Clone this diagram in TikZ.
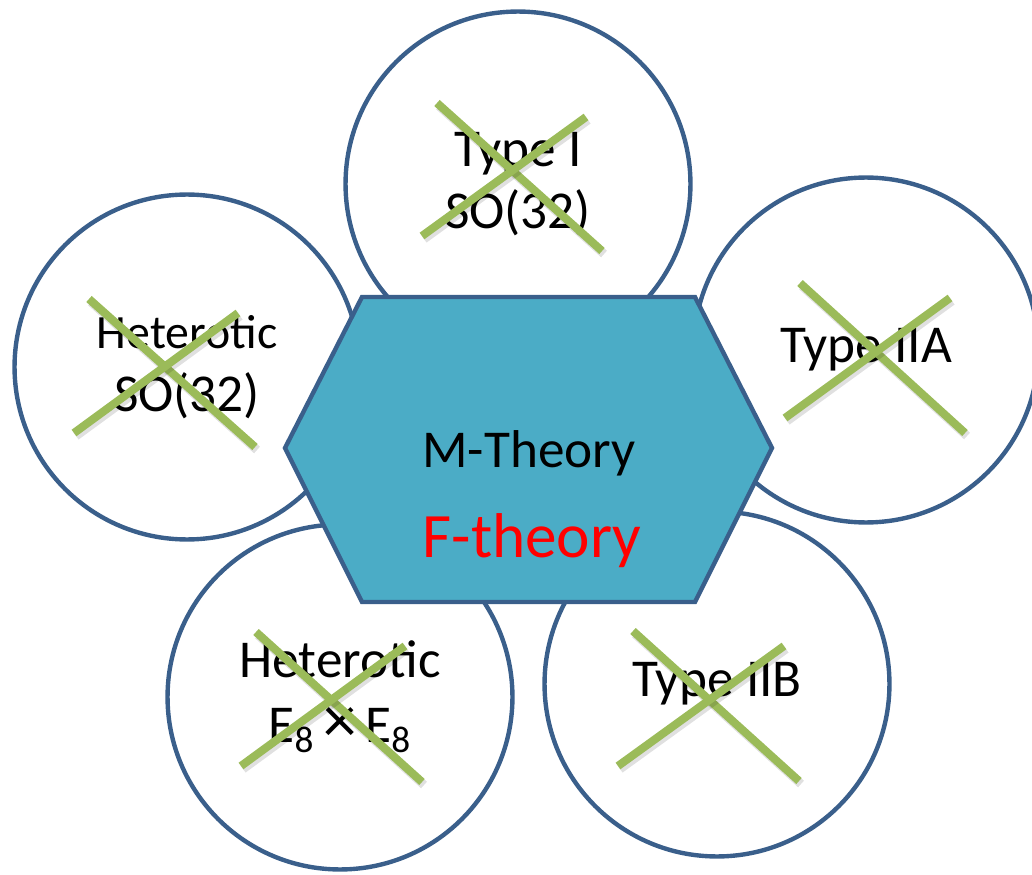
\documentclass[tikz,border=0pt]{standalone}
\usepackage{fontspec}
\setmainfont{Carlito}
\usetikzlibrary{positioning}
\definecolor{ringblue}{HTML}{3A5F8B}
\definecolor{hexfill}{HTML}{4BACC6}
\definecolor{crossgreen}{HTML}{9BBB59}

\begin{document}
\begin{tikzpicture}[
    x=0.02cm, y=-0.02cm,
    font=\fontsize{30.3}{35}\selectfont,
    theory/.style={circle, draw=ringblue, line width=2.5pt, fill=white, minimum size=6.9cm, inner sep=0pt, align=center},
    hexa/.style  ={draw=ringblue, line width=2.5pt, fill=hexfill, line join=miter},
    strike/.style={draw=crossgreen, line width=4.6pt},
    shade/.style ={draw=black, opacity=0.12, line width=5pt},
]
\useasboundingbox (0,0) rectangle (1032,875);
% the five string theories
\node[theory] (typeI)   at (518,184) {Type I\\SO(32)};
\node[theory] (hetSO)   at (187,367) {{\fontsize{27.2}{35}\selectfont Heterotic}\\[1pt]SO(32)};
\node[theory] (typeIIA) at (866,350) {Type IIA};
\node[theory] (hetE)    at (340,697) {Heterotic\\[2pt]E\textsubscript{8}\,{\fontsize{38}{35}\selectfont ×}\,E\textsubscript{8}};
\node[theory] (typeIIB) at (717,684) {Type IIB};
% central hexagon
\draw[hexa] (362,297) -- (695,297) -- (772,448) -- (695,602) -- (362,602) -- (285,448) -- cycle;
\node[anchor=base] (mth) at (529,467) {M-Theory};
\node[anchor=base, text=red, font=\fontsize{36}{42}\selectfont] (fth) at (532,557) {F-theory};
% crossed out
\foreach \a/\b/\c/\d in {437/103/602/251, 422/236/586/117,
                         89/299/255/447,   74/433/238/313,
                         800/283/965/433, 785/418/950/298,
                         256/632/422/782, 241/766/405/646,
                         633/631/799/781, 618/766/784/646} {
  \draw[shade]  (\a+2,\b+3) -- (\c+2,\d+3);
  \draw[strike] (\a,\b) -- (\c,\d);
}
\end{tikzpicture}
\end{document}
